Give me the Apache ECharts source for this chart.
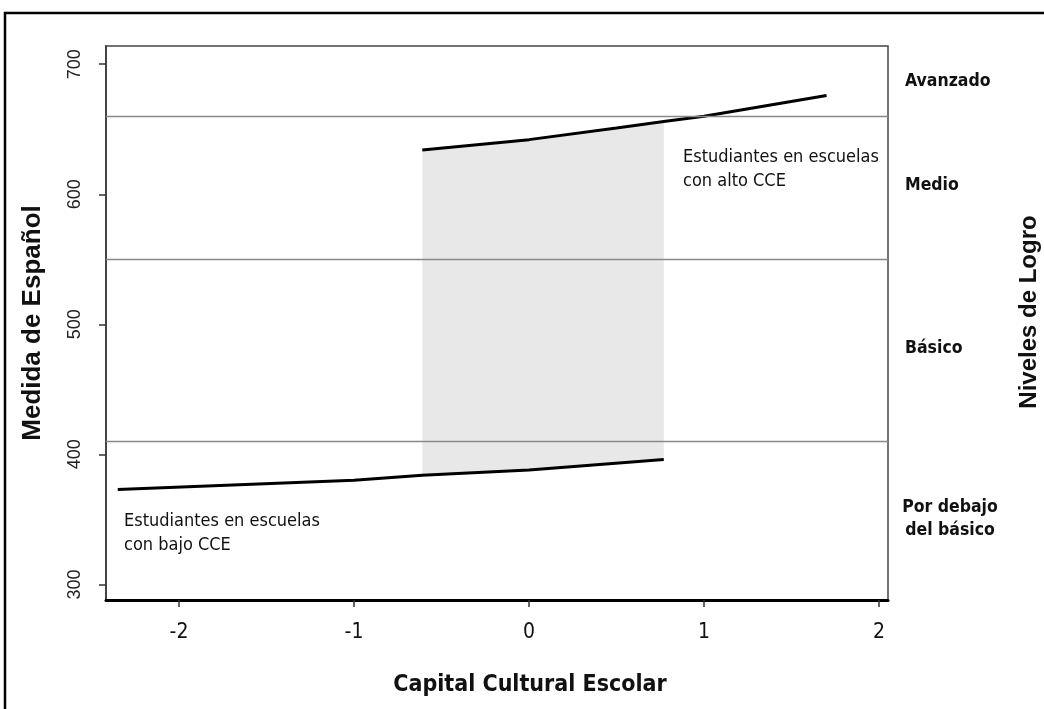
<!DOCTYPE html>
<html>
<head>
<meta charset="utf-8">
<script src="https://cdn.jsdelivr.net/npm/echarts@6/dist/echarts.min.js"></script>
<style>
html,body{margin:0;padding:0;background:#fff;}
#chart{width:1044px;height:709px;}
</style>
</head>
<body>
<div id="chart"></div>
<script>
// ---- data ----
const xTicks = [-2, -1, 0, 1, 2];
const yTicks = [300, 400, 500, 600, 700];
const levelCuts = [410, 550, 660];
const levelNames = ['Por debajo\ndel básico', 'Básico', 'Medio', 'Avanzado'];
const highX = [-0.61, 0, 0.5, 0.77, 1, 1.70];
const highY = [634, 642, 651, 656, 660, 676];
const lowX = [-2.35, -1, -0.61, 0, 0.77];
const lowY = [373, 380, 384, 388, 396];
const shadeRange = [-0.61, 0.77];
const highLabel = 'Estudiantes en escuelas\ncon alto CCE';
const lowLabel = 'Estudiantes en escuelas\ncon bajo CCE';
const xTitle = 'Capital Cultural Escolar';
const yTitle = 'Medida de Español';
const rightTitle = 'Niveles de Logro';

const X_MIN = -2.417, X_MAX = 2.051, Y_MIN = 288, Y_MAX = 714;
const NARROW = '"Liberation Sans Narrow","DejaVu Sans Condensed","Arial Narrow",sans-serif';
const SANS = '"Liberation Sans",Arial,sans-serif';

const highPts = highX.map((x, i) => [x, highY[i]]);
const lowPts = lowX.map((x, i) => [x, lowY[i]]);
const shadeTop = highPts.filter(p => p[0] >= shadeRange[0] && p[0] <= shadeRange[1]);
const shadeBottom = lowPts.filter(p => p[0] >= shadeRange[0] && p[0] <= shadeRange[1]).reverse();
const shadePoly = shadeTop.concat(shadeBottom);

const chart = echarts.init(document.getElementById('chart'), null, {renderer: 'canvas'});

const option = {
  animation: false,
  backgroundColor: '#ffffff',
  grid: {left: 106, right: 156, top: 46, bottom: 109, show: true, borderColor: '#444', borderWidth: 1.5, backgroundColor: 'transparent'},
  xAxis: {
    type: 'value', min: X_MIN, max: X_MAX,
    splitLine: {show: false},
    axisLine: {show: true, onZero: false, lineStyle: {color: '#000', width: 3}},
    axisTick: {show: true, length: 7, customValues: xTicks, lineStyle: {color: '#333', width: 1.5}},
    axisLabel: {customValues: xTicks, margin: 22, fontSize: 21, color: '#111', fontFamily: NARROW}
  },
  yAxis: {
    type: 'value', min: Y_MIN, max: Y_MAX,
    splitLine: {show: false},
    axisLine: {show: true, onZero: false, lineStyle: {color: '#444', width: 2}},
    axisTick: {show: true, length: 7, customValues: yTicks, lineStyle: {color: '#333', width: 1.5}},
    axisLabel: {customValues: yTicks, rotate: 90, margin: 22, fontSize: 18, color: '#222', fontFamily: SANS},
    name: yTitle, nameLocation: 'middle', nameGap: 60, nameRotate: 90,
    nameTextStyle: {fontSize: 26, fontWeight: 'bold', color: '#111', fontFamily: SANS}
  },
  series: [
    {
      type: 'custom', z: 1, silent: true,
      data: [0],
      renderItem: function (params, api) {
        const pts = shadePoly.map(p => api.coord(p));
        return {type: 'polygon', shape: {points: pts}, style: {fill: '#e8e8e8', stroke: null}};
      }
    },
    {
      type: 'line', z: 3, data: highPts, showSymbol: false, symbol: 'none',
      lineStyle: {color: '#000', width: 3},
      markLine: {
        silent: true, symbol: 'none', label: {show: false},
        lineStyle: {color: '#888', width: 1.3, type: 'solid'},
        data: levelCuts.map(v => ({yAxis: v}))
      }
    },
    {
      type: 'line', z: 3, data: lowPts, showSymbol: false, symbol: 'none',
      lineStyle: {color: '#000', width: 3}
    }
  ]
};
chart.setOption(option);

// level labels centered in their bands, titles, annotations
const bounds = [Y_MIN].concat(levelCuts, [Y_MAX]);
const gfx = [
  {type: 'rect', shape: {x: 5, y: 13, width: 1200, height: 900}, style: {fill: null, stroke: '#000', lineWidth: 2.5}, z: 10},
  {type: 'text', x: 530, y: 685,
   style: {text: xTitle, fontSize: 23, fontWeight: 'bold', fill: '#111', fontFamily: NARROW, align: 'center', verticalAlign: 'middle'}},
  {type: 'text', x: 1029, y: 312, rotation: Math.PI / 2,
   style: {text: rightTitle, fontSize: 24, fontWeight: 'bold', fill: '#111', fontFamily: SANS, align: 'center', verticalAlign: 'middle'}},
  {type: 'text', x: 683, y: 169,
   style: {text: highLabel, fontSize: 18, lineHeight: 24, fill: '#111', fontFamily: NARROW, align: 'left', verticalAlign: 'middle'}},
  {type: 'text', x: 124, y: 533,
   style: {text: lowLabel, fontSize: 18, lineHeight: 24, fill: '#111', fontFamily: NARROW, align: 'left', verticalAlign: 'middle'}}
];
levelNames.forEach((name, i) => {
  const yc = chart.convertToPixel({yAxisIndex: 0}, (bounds[i] + bounds[i + 1]) / 2);
  const multi = name.indexOf('\n') >= 0;
  gfx.push({type: 'text', x: multi ? 950 : 905, y: yc - (i === 3 ? 0 : 2),
    style: {text: name, fontSize: 17.5, lineHeight: 23, fontWeight: 'bold', fill: '#111', fontFamily: NARROW,
            align: multi ? 'center' : 'left', verticalAlign: 'middle'}});
});
chart.setOption({graphic: gfx});
</script>
</body>
</html>
